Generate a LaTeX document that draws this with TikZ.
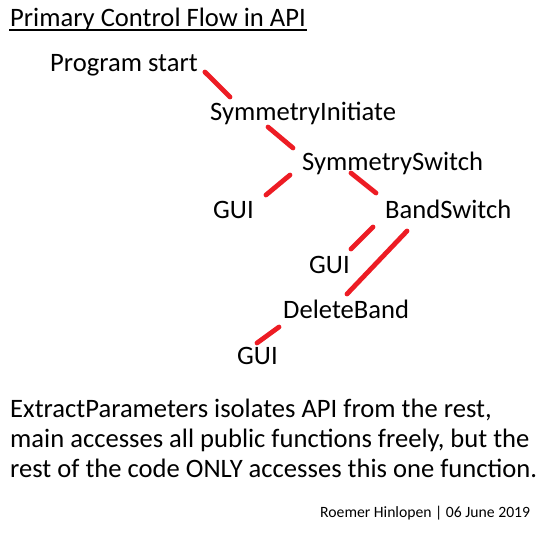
\documentclass[tikz,border=0pt]{standalone}
\usepackage{fontspec}
\setmainfont{Carlito}
\usetikzlibrary{calc}

\begin{document}
\begin{tikzpicture}[x=1pt, y=-1pt,
	every node/.style={inner sep=0pt, anchor=base west, font=\fontsize{26.6}{30}\selectfont},
	small/.style={font=\fontsize{15.7}{18}\selectfont},
	link/.style={draw={rgb,255:red,237;green,28;blue,36}, line width=4.8pt, line cap=round}]
	\useasboundingbox (0,0) rectangle (544,533);
	\node (title) at (10,26) {Primary Control Flow in API};
	\draw[line width=1.8pt] ($(title.base west)+(-1,4)$) -- ($(title.base east)+(1,4)$);
	\node (start) at (50,71) {Program start};
	\node (init) at (210,120) {SymmetryInitiate};
	\node (sswitch) at (302,170) {SymmetrySwitch};
	\node (gui1) at (213,218) {GUI};
	\node (band) at (385,218) {BandSwitch};
	\node (gui2) at (309,273) {GUI};
	\node (del) at (283,318) {DeleteBand};
	\node (gui3) at (237,364) {GUI};
	\draw[link] ($(start.base east)+(7,1)$) -- ($(init.base west)+(20,-23)$);
	\draw[link] ($(init.base west)+(58,7)$) -- ($(sswitch.base west)+(-9,-22)$);
	\draw[link] ($(sswitch.base west)+(-12,5)$) -- ($(gui1.base east)+(12,-23)$);
	\draw[link] ($(sswitch.base west)+(49,3)$) -- ($(band.base west)+(-9,-25)$);
	\draw[link] ($(band.base west)+(-12,9)$) -- ($(gui2.base east)+(1,-24)$);
	\draw[link] ($(band.base west)+(22,13)$) -- ($(del.base west)+(64,-24)$);
	\draw[link] ($(del.base west)+(-4,9)$) -- ($(gui3.base west)+(20,-21)$);
	\node (note1) at (10,417) {ExtractParameters isolates API from the rest,};
	\node (note2) at (10,447) {main accesses all public functions freely, but the};
	\node (note3) at (10,477) {rest of the code ONLY accesses this one function.};
	\node[small] (sign) at (320,517) {Roemer Hinlopen | 06 June 2019};
\end{tikzpicture}
\end{document}
